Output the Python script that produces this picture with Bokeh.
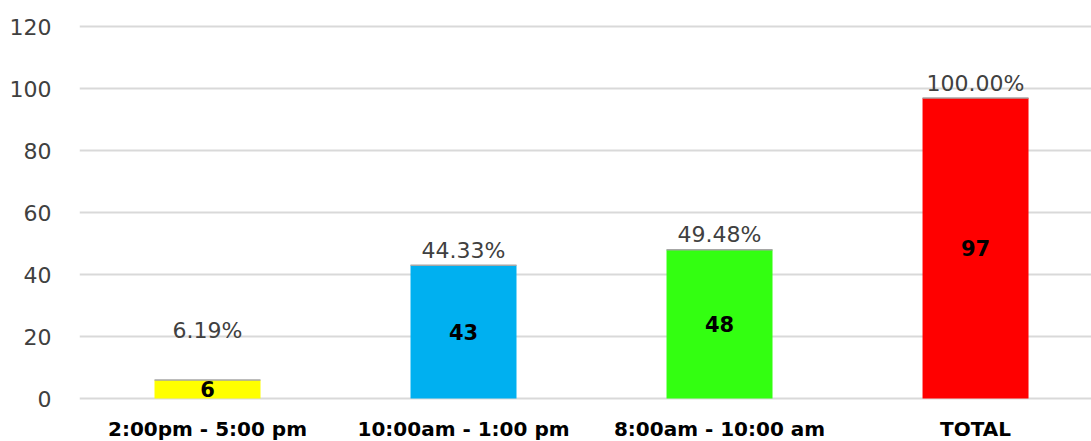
from bokeh.plotting import figure
from bokeh.models import Range1d, FixedTicker, ColumnDataSource
from bokeh.core.properties import value
from bokeh.embed import file_html
from bokeh.resources import INLINE

categories = ["2:00pm - 5:00 pm", "10:00am - 1:00 pm", "8:00am - 10:00 am", "TOTAL"]
counts = [6, 43, 48, 97]
colors = ["#FFFF00", "#00B0F0", "#33FF11", "#FF0000"]
y_ticks = [0, 20, 40, 60, 80, 100, 120]

total = counts[-1]
xs = list(range(len(categories)))
pct_labels = ["%.2f%%" % (100.0 * c / total) for c in counts]
pct_y = [max(c, 17) + 4.8 for c in counts]
mid_y = [c / 2 for c in counts]
half = 0.207
cat_label_y = [-5.9] * len(categories)

src = ColumnDataSource(dict(x=xs, top=counts, color=colors, pct=pct_labels,
                            pct_y=pct_y, mid_y=mid_y, val=[str(c) for c in counts],
                            x0=[x - half for x in xs], x1=[x + half for x in xs],
                            cat=categories, cat_y=cat_label_y))

p = figure(width=1091, height=441, output_backend="svg", toolbar_location=None,
           x_range=Range1d(-0.5, 3.453), y_range=Range1d(-13.87, 121),
           min_border_left=79, min_border_right=0, min_border_top=23, min_border_bottom=0)
p.outline_line_color = None
p.background_fill_color = "white"
p.xaxis.visible = False

p.vbar(x="x", top="top", bottom=0, width=2 * half, color="color", line_color=None, source=src)
p.segment(x0="x0", x1="x1", y0="top", y1="top", line_color="#A6A6A6", line_width=1.5, source=src)

p.text(x="x", y="pct_y", text="pct", source=src, text_align="center", text_baseline="middle",
       text_font=value("DejaVu Sans"), text_font_size="22px", text_color="#404040")
p.text(x="x", y="mid_y", text="val", source=src, text_align="center", text_baseline="middle",
       text_font=value("DejaVu Sans"), text_font_size="21px", text_font_style="bold",
       text_color="#000000")
p.text(x="x", y="cat_y", text="cat", source=src, text_align="center", text_baseline="top",
       text_font=value("DejaVu Sans"), text_font_size="20px", text_font_style="bold",
       text_color="#000000")

p.xgrid.grid_line_color = None
p.ygrid.grid_line_color = "#D9D9D9"
p.ygrid.grid_line_width = 2

p.yaxis.ticker = FixedTicker(ticks=y_ticks)
p.yaxis.axis_line_color = None
p.yaxis.major_tick_line_color = None
p.yaxis.minor_tick_line_color = None
p.yaxis.major_label_standoff = 22
p.yaxis.major_label_text_font = "DejaVu Sans"
p.yaxis.major_label_text_font_size = "22px"
p.yaxis.major_label_text_color = "#404040"

open("out.html", "w").write(file_html(p, INLINE))
